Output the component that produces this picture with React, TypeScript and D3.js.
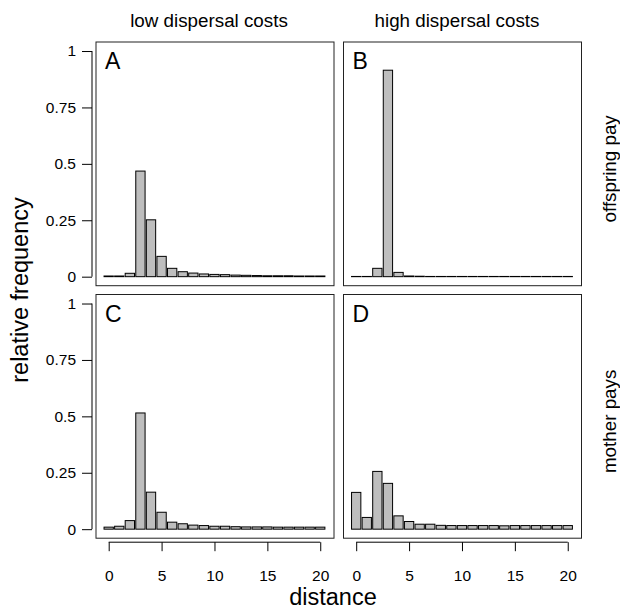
import React, { useRef, useEffect } from "react";
import * as d3 from "d3";

// dispersal distance classes 0..20
const distances = d3.range(0, 21);

// relative frequencies
const offspringLow = [0.003, 0.003, 0.015, 0.468, 0.252, 0.09, 0.037, 0.022, 0.016, 0.012, 0.01, 0.009, 0.007, 0.006, 0.005, 0.004, 0.004, 0.004, 0.003, 0.003, 0.003];
const offspringHigh = [0.001, 0.001, 0.037, 0.915, 0.019, 0.003, 0.002, 0.001, 0.001, 0.001, 0.001, 0.001, 0.001, 0.001, 0.001, 0.001, 0.001, 0.001, 0.001, 0.001, 0.001];
const motherLow = [0.009, 0.013, 0.038, 0.515, 0.164, 0.075, 0.031, 0.024, 0.018, 0.016, 0.013, 0.013, 0.011, 0.01, 0.01, 0.01, 0.009, 0.009, 0.009, 0.009, 0.009];
const motherHigh = [0.163, 0.052, 0.256, 0.203, 0.059, 0.034, 0.022, 0.022, 0.017, 0.016, 0.016, 0.016, 0.016, 0.016, 0.015, 0.016, 0.016, 0.016, 0.016, 0.016, 0.016];

const columnTitles = ["low dispersal costs", "high dispersal costs"];
const rowTitles = ["offspring pay", "mother pays"];
const panelLetters = ["A", "B", "C", "D"];
const yTicks = [0, 0.25, 0.5, 0.75, 1];
const yTickLabels = ["0", "0.25", "0.5", "0.75", "1"];
const xTicks = [0, 5, 10, 15, 20];

const panels = [
  { values: offspringLow, row: 0, col: 0 },
  { values: offspringHigh, row: 0, col: 1 },
  { values: motherLow, row: 1, col: 0 },
  { values: motherHigh, row: 1, col: 1 },
];

const W = 620;
const H = 612;
const FONT = "'Liberation Sans', Arial, Helvetica, sans-serif";
const colLeft = [96, 343.5];
const rowTop = [42, 294.5];
const boxW = 238;
const boxH = 243.7;

export default function App() {
  const ref = useRef<SVGSVGElement>(null);

  useEffect(() => {
    if (!ref.current) return;
    const svg = d3.select(ref.current);
    svg.selectAll("*").remove();
    svg.append("rect").attr("width", W).attr("height", H).attr("fill", "#fff");

    panels.forEach((p, i) => {
      const left = colLeft[p.col];
      const top = rowTop[p.row];
      const x = d3.scaleLinear().domain([-1.2, 21.3]).range([left, left + boxW]);
      const y = d3.scaleLinear().domain([-0.04, 1.04]).range([top + boxH, top]);
      const g = svg.append("g");

      // bars
      const half = 0.44;
      g.selectAll("rect.bar")
        .data(distances)
        .enter()
        .append("rect")
        .attr("class", "bar")
        .attr("x", d => x(d - half))
        .attr("width", x(half) - x(-half))
        .attr("y", d => y(p.values[d]))
        .attr("height", d => y(0) - y(p.values[d]))
        .attr("fill", "#bebebe")
        .attr("stroke", "#000")
        .attr("stroke-width", 1);

      // frame
      g.append("rect")
        .attr("x", left)
        .attr("y", top)
        .attr("width", boxW)
        .attr("height", boxH)
        .attr("fill", "none")
        .attr("stroke", "#222")
        .attr("stroke-width", 1);

      g.append("text")
        .attr("x", left + 9)
        .attr("y", top + 27)
        .attr("font-family", FONT)
        .attr("font-size", 23)
        .text(panelLetters[i]);

      // y axis on left column
      if (p.col === 0) {
        const ax = g.append("g")
          .attr("transform", `translate(${left - 4},0)`)
          .call(d3.axisLeft(y).tickValues(yTicks).tickSize(10).tickPadding(6)
            .tickFormat((d, k) => yTickLabels[k]));
        ax.select(".domain").remove();
        ax.append("line")
          .attr("y1", y(0)).attr("y2", y(1))
          .attr("stroke", "#000");
        ax.selectAll("text").attr("font-family", FONT).attr("font-size", 15.5).attr("fill", "#000");
        ax.selectAll(".tick line").attr("stroke", "#000");
      }

      // x axis on bottom row
      if (p.row === 1) {
        const ax = g.append("g")
          .attr("transform", `translate(0,${top + boxH + 4})`)
          .call(d3.axisBottom(x).tickValues(xTicks).tickSize(9).tickPadding(19)
            .tickFormat(d3.format("d")));
        ax.select(".domain").remove();
        ax.append("line")
          .attr("x1", x(0)).attr("x2", x(20))
          .attr("stroke", "#000");
        ax.selectAll("text").attr("font-family", FONT).attr("font-size", 15.5).attr("fill", "#000");
        ax.selectAll(".tick line").attr("stroke", "#000");
      }
    });

    // column titles
    [209, 457].forEach((cx, k) => {
      svg.append("text")
        .attr("x", cx).attr("y", 27)
        .attr("text-anchor", "middle")
        .attr("font-family", FONT)
        .attr("font-size", 18.8)
        .text(columnTitles[k]);
    });

    // row titles on the right
    rowTitles.forEach((t, k) => {
      const cy = rowTop[k] + boxH / 2 + 5;
      svg.append("text")
        .attr("transform", `translate(616,${cy}) rotate(-90)`)
        .attr("text-anchor", "middle")
        .attr("font-family", FONT)
        .attr("font-size", 18.8)
        .text(t);
    });

    svg.append("text")
      .attr("transform", `translate(28,290) rotate(-90)`)
      .attr("text-anchor", "middle")
      .attr("font-family", FONT)
      .attr("font-size", 23.5)
      .text("relative frequency");

    svg.append("text")
      .attr("x", 333).attr("y", 605)
      .attr("text-anchor", "middle")
      .attr("font-family", FONT)
      .attr("font-size", 23.5)
      .text("distance");
  }, []);

  return (
    <svg ref={ref} width={W} height={H}
      style={{ position: "absolute", left: 0, top: 0, display: "block" }} />
  );
}
